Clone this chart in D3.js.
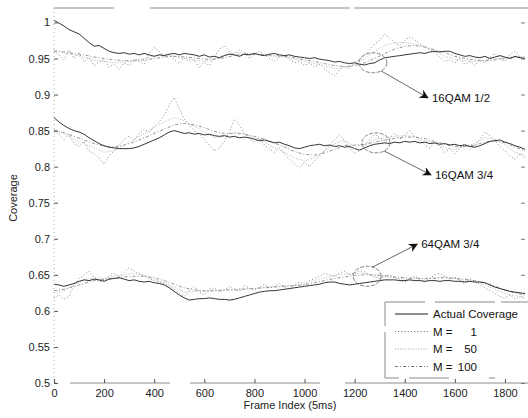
<!DOCTYPE html>
<html>
<head>
<meta charset="utf-8">
<script src="https://cdn.jsdelivr.net/npm/d3@7"></script>
<style>
  body { margin: 0; background: #fff; }
  svg { font-family: "Liberation Sans", Arial, sans-serif; }
</style>
</head>
<body>
<script>
// ---- data (coverage) ----
// fine series: one value every 20 frames, 0..1880
var fineStep = 20;
// smooth estimates: one value every 40 frames, 0..1880
var coarseStep = 40;

var xTicks = [0, 200, 400, 600, 800, 1000, 1200, 1400, 1600, 1800];
var yTicks = [0.5, 0.55, 0.6, 0.65, 0.7, 0.75, 0.8, 0.85, 0.9, 0.95, 1];
var yTickLabels = ["0.5", "0.55", "0.6", "0.65", "0.7", "0.75", "0.8", "0.85", "0.9", "0.95", "1"];

var legendNames = ["Actual Coverage", "1", "50", "100"];

var modeNames = ["16QAM 1/2", "16QAM 3/4", "64QAM 3/4"];
// circled frame / coverage for each mode
var circleFrame = [1273, 1285, 1250];
var circleCov = [0.944, 0.833, 0.648];

// 16QAM 1/2
var actual16h = [1.003,0.999,0.995,0.990,0.987,0.984,0.978,0.972,0.967,0.968,0.964,0.960,0.958,0.957,0.958,0.956,0.957,0.955,0.957,0.955,
  0.953,0.955,0.954,0.956,0.957,0.955,0.957,0.956,0.955,0.953,0.955,0.952,0.953,0.951,0.954,0.956,0.955,0.953,0.956,0.955,
  0.957,0.955,0.954,0.956,0.957,0.955,0.954,0.955,0.953,0.952,0.951,0.950,0.951,0.949,0.948,0.947,0.945,0.946,0.944,0.943,
  0.944,0.942,0.941,0.943,0.944,0.948,0.951,0.952,0.953,0.954,0.955,0.956,0.957,0.958,0.957,0.959,0.960,0.959,0.960,0.960,
  0.957,0.955,0.953,0.954,0.952,0.951,0.953,0.950,0.952,0.954,0.952,0.950,0.953,0.951,0.950];
var m1_16h = [0.960,0.955,0.948,0.962,0.950,0.958,0.945,0.952,0.940,0.945,0.948,0.938,0.942,0.935,0.944,0.940,0.950,0.946,0.942,0.957,
  0.965,0.960,0.952,0.956,0.948,0.943,0.951,0.946,0.948,0.937,0.945,0.940,0.952,0.963,0.968,0.960,0.955,0.962,0.958,0.950,
  0.956,0.960,0.955,0.950,0.946,0.952,0.955,0.948,0.944,0.946,0.940,0.944,0.938,0.942,0.936,0.930,0.926,0.934,0.940,0.936,
  0.945,0.948,0.955,0.962,0.970,0.975,0.984,0.978,0.972,0.968,0.975,0.980,0.976,0.970,0.966,0.962,0.958,0.952,0.946,0.948,
  0.944,0.950,0.942,0.946,0.940,0.948,0.944,0.952,0.957,0.950,0.946,0.955,0.960,0.952,0.948];
var m50_16h = [0.962,0.958,0.955,0.952,0.948,0.946,0.944,0.945,0.947,0.950,0.954,0.956,0.953,0.950,0.948,0.946,0.949,0.955,0.958,0.957,
  0.956,0.955,0.952,0.952,0.949,0.946,0.943,0.940,0.936,0.937,0.942,0.950,0.960,0.968,0.972,0.972,0.970,0.966,0.960,0.953,
  0.949,0.947,0.946,0.947,0.950,0.951,0.953,0.952];
var m100_16h = [0.960,0.959,0.957,0.955,0.952,0.950,0.948,0.947,0.947,0.948,0.950,0.952,0.953,0.952,0.951,0.949,0.949,0.951,0.954,0.956,
  0.956,0.955,0.954,0.953,0.951,0.948,0.946,0.943,0.940,0.939,0.940,0.944,0.950,0.957,0.963,0.967,0.968,0.966,0.962,0.958,
  0.953,0.950,0.948,0.947,0.948,0.950,0.951,0.952];

// 16QAM 3/4
var actual16t = [0.868,0.862,0.857,0.853,0.850,0.848,0.845,0.840,0.836,0.832,0.829,0.827,0.826,0.825,0.825,0.825,0.826,0.828,0.831,0.834,
  0.837,0.840,0.844,0.848,0.850,0.848,0.846,0.847,0.845,0.846,0.844,0.845,0.843,0.842,0.843,0.841,0.842,0.840,0.841,0.840,
  0.838,0.836,0.837,0.835,0.833,0.834,0.831,0.829,0.826,0.825,0.827,0.829,0.830,0.831,0.829,0.830,0.828,0.829,0.827,0.828,
  0.825,0.823,0.826,0.829,0.831,0.832,0.833,0.832,0.834,0.833,0.835,0.834,0.835,0.833,0.834,0.832,0.833,0.831,0.832,0.830,
  0.831,0.829,0.830,0.828,0.827,0.829,0.832,0.835,0.836,0.837,0.834,0.832,0.829,0.827,0.824];
var m1_16t = [0.850,0.845,0.838,0.845,0.832,0.828,0.835,0.822,0.818,0.812,0.803,0.815,0.822,0.830,0.838,0.842,0.836,0.846,0.852,0.848,
  0.856,0.862,0.872,0.885,0.896,0.880,0.866,0.858,0.850,0.845,0.838,0.830,0.822,0.826,0.835,0.848,0.866,0.858,0.846,0.838,
  0.834,0.840,0.830,0.824,0.820,0.826,0.818,0.810,0.804,0.798,0.806,0.800,0.808,0.815,0.822,0.830,0.838,0.844,0.836,0.826,
  0.818,0.822,0.830,0.838,0.845,0.840,0.835,0.840,0.846,0.838,0.844,0.850,0.842,0.836,0.830,0.826,0.834,0.828,0.820,0.825,
  0.818,0.826,0.832,0.824,0.830,0.838,0.848,0.843,0.836,0.828,0.822,0.815,0.810,0.818,0.812];
var m50_16t = [0.852,0.846,0.838,0.832,0.826,0.820,0.822,0.830,0.838,0.846,0.854,0.862,0.868,0.864,0.856,0.848,0.840,0.842,0.848,0.846,
  0.840,0.834,0.826,0.820,0.812,0.808,0.812,0.822,0.832,0.836,0.828,0.830,0.838,0.840,0.842,0.843,0.842,0.836,0.832,0.826,
  0.824,0.828,0.832,0.840,0.838,0.830,0.820,0.816];
var m100_16t = [0.850,0.847,0.842,0.837,0.832,0.828,0.827,0.830,0.834,0.840,0.846,0.852,0.858,0.860,0.858,0.854,0.849,0.846,0.846,0.845,
  0.842,0.838,0.833,0.827,0.821,0.817,0.816,0.819,0.824,0.829,0.830,0.831,0.834,0.837,0.839,0.841,0.841,0.839,0.835,0.831,
  0.828,0.828,0.830,0.834,0.836,0.833,0.827,0.822];

// 64QAM 3/4
var actual64t = [0.637,0.636,0.634,0.636,0.638,0.641,0.643,0.642,0.644,0.643,0.641,0.644,0.645,0.646,0.644,0.642,0.643,0.641,0.640,0.641,
  0.639,0.638,0.636,0.632,0.627,0.622,0.618,0.615,0.616,0.617,0.617,0.618,0.617,0.616,0.616,0.615,0.616,0.618,0.620,0.622,
  0.624,0.626,0.627,0.628,0.628,0.629,0.630,0.631,0.632,0.633,0.634,0.635,0.636,0.637,0.639,0.640,0.640,0.638,0.637,0.636,
  0.637,0.638,0.639,0.640,0.641,0.642,0.643,0.643,0.643,0.642,0.642,0.643,0.642,0.642,0.641,0.642,0.642,0.641,0.642,0.642,
  0.641,0.641,0.640,0.641,0.640,0.640,0.639,0.636,0.633,0.631,0.629,0.627,0.626,0.625,0.624];
var m1_64t = [0.618,0.622,0.616,0.620,0.636,0.645,0.650,0.655,0.646,0.640,0.643,0.648,0.652,0.647,0.654,0.660,0.655,0.652,0.649,0.645,
  0.642,0.640,0.638,0.634,0.630,0.625,0.620,0.628,0.634,0.626,0.622,0.630,0.632,0.626,0.629,0.634,0.630,0.627,0.635,0.632,
  0.628,0.633,0.637,0.631,0.634,0.638,0.633,0.630,0.636,0.640,0.637,0.642,0.645,0.648,0.652,0.650,0.648,0.653,0.655,0.650,
  0.652,0.656,0.654,0.650,0.647,0.645,0.648,0.650,0.646,0.643,0.640,0.645,0.648,0.644,0.640,0.645,0.650,0.652,0.648,0.644,
  0.647,0.642,0.638,0.645,0.641,0.636,0.632,0.628,0.624,0.620,0.618,0.622,0.616,0.620,0.617];
var m50_64t = [0.625,0.628,0.636,0.643,0.646,0.645,0.648,0.650,0.652,0.649,0.644,0.639,0.633,0.626,0.627,0.627,0.628,0.629,0.630,0.631,
  0.631,0.633,0.634,0.635,0.635,0.638,0.642,0.646,0.649,0.651,0.652,0.652,0.649,0.647,0.646,0.644,0.645,0.644,0.646,0.647,
  0.645,0.642,0.641,0.636,0.630,0.624,0.621,0.619];
var m100_64t = [0.628,0.630,0.634,0.638,0.642,0.644,0.645,0.647,0.648,0.648,0.646,0.642,0.637,0.632,0.629,0.628,0.628,0.629,0.629,0.630,
  0.631,0.632,0.633,0.634,0.635,0.636,0.639,0.642,0.645,0.647,0.649,0.650,0.650,0.649,0.647,0.646,0.645,0.645,0.645,0.646,
  0.645,0.644,0.642,0.639,0.634,0.629,0.625,0.622];

// ---- drawing ----
var W = 528, H = 418;
var svg = d3.select("body").append("svg").attr("width", W).attr("height", H);

var x = d3.scaleLinear().domain([0, 1880]).range([54, 525]);
var y = d3.scaleLinear().domain([0.5, 1.02]).range([383, 8]);

// line styles: actual, M=1, M=50, M=100
var styles = [
  { stroke: "#1e1e1e", width: 0.9, dash: null },
  { stroke: "#6a6a6a", width: 0.8, dash: "1,2.2" },
  { stroke: "#9a9a9a", width: 0.7, dash: "1,1.6" },
  { stroke: "#7a7a7a", width: 0.8, dash: "3,2,1,2" }
];

function toPoints(vals, step) {
  return vals.map(function(v, i) { return [i * step, v]; });
}

var line = d3.line()
  .x(function(d) { return x(d[0]); })
  .y(function(d) { return y(d[1]); });

var groups = [
  [actual16h, m1_16h, m50_16h, m100_16h],
  [actual16t, m1_16t, m50_16t, m100_16t],
  [actual64t, m1_64t, m50_64t, m100_64t]
];

var plot = svg.append("g");
// draw estimates first, actual coverage on top
[1, 3, 2, 0].forEach(function(s) {
  groups.forEach(function(g) {
    var step = (s === 0 || s === 1) ? fineStep : coarseStep;
    plot.append("path")
      .datum(toPoints(g[s], step))
      .attr("fill", "none")
      .attr("stroke", styles[s].stroke)
      .attr("stroke-width", styles[s].width)
      .attr("stroke-dasharray", styles[s].dash)
      .attr("d", line);
  });
});

// ---- axes (faded scan look) ----
var frame = svg.append("g").attr("stroke", "#8a8a8a").attr("fill", "none");
frame.append("line").attr("x1", 54).attr("x2", 528).attr("y1", y(1.02)).attr("y2", y(1.02))
  .attr("stroke-dasharray", "60,36,200,4,190").attr("stroke-width", 1);
frame.append("line").attr("x1", 54).attr("x2", 528).attr("y1", y(0.5)).attr("y2", y(0.5))
  .attr("stroke-dasharray", "2,14,100,20,130,25,190").attr("stroke-width", 1);
frame.append("line").attr("x1", 54).attr("x2", 54).attr("y1", y(1.02)).attr("y2", y(0.5))
  .attr("stroke-dasharray", "1,3").attr("stroke", "#b0b0b0");

var yAxis = d3.axisLeft(y).tickValues(yTicks)
  .tickFormat(function(d, i) { return yTickLabels[i]; })
  .tickSizeInner(-4).tickSizeOuter(0).tickPadding(4);
var gy = svg.append("g").attr("transform", "translate(54,0)").call(yAxis);
gy.select(".domain").remove();
gy.selectAll("line").attr("stroke", "#555");
gy.selectAll("text").attr("font-size", 11).attr("fill", "#222")
  .attr("font-family", "'Liberation Sans', Arial, sans-serif");

var yAxisR = d3.axisRight(y).tickValues(yTicks).tickFormat("").tickSizeInner(-4).tickSizeOuter(0);
var gyr = svg.append("g").attr("transform", "translate(525,0)").call(yAxisR);
gyr.select(".domain").remove();
gyr.selectAll("line").attr("stroke", "#777");

var xAxis = d3.axisBottom(x).tickValues(xTicks).tickSizeInner(-4).tickSizeOuter(0).tickPadding(6)
  .tickFormat(d3.format("d"));
var gx = svg.append("g").attr("transform", "translate(0,383)").call(xAxis);
gx.select(".domain").remove();
gx.selectAll("line").attr("stroke", "#555");
gx.selectAll("text").attr("font-size", 11).attr("fill", "#222")
  .attr("font-family", "'Liberation Sans', Arial, sans-serif");

svg.append("text")
  .attr("x", 290).attr("y", 409)
  .attr("text-anchor", "middle").attr("font-size", 11).attr("fill", "#222")
  .text("Frame Index (5ms)");

svg.append("text")
  .attr("transform", "translate(17,198) rotate(-90)")
  .attr("text-anchor", "middle").attr("font-size", 11).attr("fill", "#222")
  .text("Coverage");

// ---- annotations: ellipse + arrow + label ----
svg.append("defs").append("marker")
  .attr("id", "arr").attr("viewBox", "0 0 10 10")
  .attr("refX", 9).attr("refY", 5)
  .attr("markerWidth", 11).attr("markerHeight", 9)
  .attr("markerUnits", "userSpaceOnUse")
  .attr("orient", "auto")
  .append("path").attr("d", "M0,0 L10,5 L0,10 L3,5 z").attr("fill", "#111");

// arrow end offsets (in px) and label positions relative to the circled spot
var arrowDx = [55, 55, 50];
var arrowDy = [35, 32, -32];

modeNames.forEach(function(name, i) {
  var cx = x(circleFrame[i]), cy = y(circleCov[i]);
  svg.append("ellipse")
    .attr("cx", cx).attr("cy", cy).attr("rx", 14).attr("ry", 10)
    .attr("fill", "none").attr("stroke", "#666").attr("stroke-width", 0.8)
    .attr("stroke-dasharray", "4,1.5");
  var sx = cx + (arrowDy[i] > 0 ? 8 : 5), sy = cy + (arrowDy[i] > 0 ? 8 : -9);
  var ex = cx + arrowDx[i], ey = cy + arrowDy[i];
  svg.append("line")
    .attr("x1", sx).attr("y1", sy).attr("x2", ex).attr("y2", ey)
    .attr("stroke", "#444").attr("stroke-width", 0.8)
    .attr("marker-end", "url(#arr)");
  svg.append("text")
    .attr("x", ex + 4).attr("y", ey + 4)
    .attr("font-size", 11.5).attr("fill", "#111")
    .text(name);
});

// ---- legend ----
var lg = svg.append("g");
lg.append("rect")
  .attr("x", 385).attr("y", 302).attr("width", 150).attr("height", 76)
  .attr("fill", "#fff").attr("stroke", "#888").attr("stroke-width", 1)
  .attr("stroke-dasharray", "40,10,60,6,40");
legendNames.forEach(function(name, i) {
  var ly = 314 + i * 17.5;
  lg.append("line")
    .attr("x1", 395).attr("x2", 428).attr("y1", ly).attr("y2", ly)
    .attr("stroke", styles[i].stroke).attr("stroke-width", styles[i].width + 0.2)
    .attr("stroke-dasharray", styles[i].dash);
  if (i === 0) {
    lg.append("text").attr("x", 433).attr("y", ly + 4)
      .attr("font-size", 11.5).attr("fill", "#111").text(name);
  } else {
    lg.append("text").attr("x", 433).attr("y", ly + 4)
      .attr("font-size", 11.5).attr("fill", "#111").text("M =");
    lg.append("text").attr("x", 477).attr("y", ly + 4).attr("text-anchor", "end")
      .attr("font-size", 11.5).attr("fill", "#111").text(name);
  }
});
</script>
</body>
</html>
